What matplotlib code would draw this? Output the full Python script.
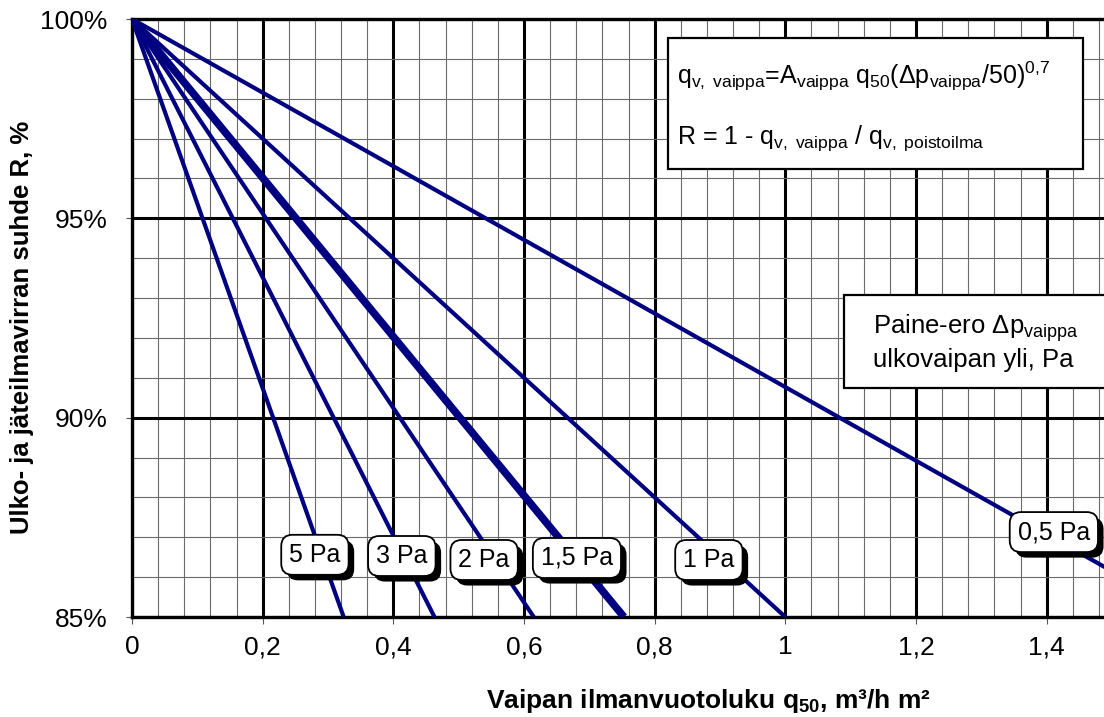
import matplotlib
matplotlib.use("Agg")
import matplotlib.pyplot as plt
import matplotlib.patheffects as pe
from matplotlib.patches import Rectangle
from matplotlib.ticker import MultipleLocator

plt.rcParams['font.family'] = ['Liberation Sans', 'DejaVu Sans']
plt.rcParams['mathtext.fontset'] = 'custom'
plt.rcParams['mathtext.rm'] = 'Liberation Sans'
plt.rcParams['mathtext.it'] = 'Liberation Sans'
plt.rcParams['mathtext.bf'] = 'Liberation Sans:bold'

# Data: each line starts at (0, 100%) and ends at (x_end, y_end)
pressures = ["5 Pa", "3 Pa", "2 Pa", "1,5 Pa", "1 Pa", "0,5 Pa"]
x_start = [0, 0, 0, 0, 0, 0]
y_start = [100, 100, 100, 100, 100, 100]
x_end = [0.324, 0.463, 0.615, 0.753, 1.0, 1.5]
y_end = [85, 85, 85, 85, 85, 86.15]
line_widths = [3.0, 3.0, 3.0, 5.5, 3.0, 3.0]
label_x = [0.280, 0.413, 0.539, 0.681, 0.883, 1.411]
label_y = [86.56, 86.53, 86.43, 86.48, 86.43, 87.13]

xticks = [0, 0.2, 0.4, 0.6, 0.8, 1.0, 1.2, 1.4]
xtick_labels = ["0", "0,2", "0,4", "0,6", "0,8", "1", "1,2", "1,4"]
yticks = [85, 90, 95, 100]
ytick_labels = ["85%", "90%", "95%", "100%"]

fig = plt.figure(figsize=(11.04, 7.17), dpi=100)
ax = fig.add_axes([132/1104, 1-617/717, (1112-132)/1104, (617-19)/717])
ax.set_xlim(0, 1.5)
ax.set_ylim(85, 100)

ax.xaxis.set_minor_locator(MultipleLocator(0.04))
ax.yaxis.set_minor_locator(MultipleLocator(1))
ax.grid(which='minor', color='#6a6a6a', lw=0.8, zorder=0)
ax.grid(which='major', color='black', lw=2.2, zorder=0.5)
ax.set_axisbelow(True)
for s in ax.spines.values():
    s.set_linewidth(2.4)
    s.set_zorder(0.6)

ax.set_xticks(xticks)
ax.set_xticklabels(xtick_labels, fontsize=19)
ax.set_yticks(yticks)
ax.set_yticklabels(ytick_labels, fontsize=19)
ax.tick_params(axis='y', which='major', direction='out', length=4.5, width=0.8,
               color='#555555', pad=13)
ax.tick_params(axis='x', which='major', direction='out', length=5, width=0.8,
               color='#555555', pad=8)
ax.tick_params(which='minor', length=0)

for i in range(len(pressures)):
    ax.plot([x_start[i], x_end[i]], [y_start[i], y_end[i]], color='#000080',
            lw=line_widths[i], solid_capstyle='butt', zorder=2, clip_on=True)

for i, lab in enumerate(pressures):
    t = ax.text(label_x[i], label_y[i], lab, fontsize=18, ha='center', va='center',
                zorder=5,
                bbox=dict(boxstyle='round,pad=0.32,rounding_size=0.45', fc='white',
                          ec='black', lw=1.3))
    t.get_bbox_patch().set_path_effects([
        pe.SimplePatchShadow(offset=(4, -4), shadow_rgbFace='black', alpha=1.0),
        pe.Normal()])

# Formula box
ax.add_patch(Rectangle((0.820, 96.23), 0.635, 3.29, fc='white', ec='black', lw=1.6, zorder=4))
ax.text(0.834, 98.57,
        r"q$_{\mathregular{v,\ vaippa}}$=A$_{\mathregular{vaippa}}$ q$_{\mathregular{50}}$(Δp$_{\mathregular{vaippa}}$/50)$^{\mathregular{0{,}7}}$",
        fontsize=18, ha='left', va='center', zorder=5)
ax.text(0.834, 97.0,
        r"R = 1 - q$_{\mathregular{v,\ vaippa}}$ / q$_{\mathregular{v,\ poistoilma}}$",
        fontsize=18, ha='left', va='center', zorder=5)

# Pressure difference box
ax.add_patch(Rectangle((1.090, 90.75), 0.5, 2.33, fc='white', ec='black', lw=1.6, zorder=4))
ax.text(1.134, 92.25, r"Paine-ero Δp$_{\mathregular{vaippa}}$", fontsize=18.5,
        ha='left', va='center', zorder=5)
ax.text(1.134, 91.45, "ulkovaipan yli, Pa", fontsize=18.5, ha='left', va='center', zorder=5)

ax.set_xlabel(r"Vaipan ilmanvuotoluku q$_{\mathbf{50}}$, m³/h m²", fontsize=19,
              fontweight='bold')
ax.xaxis.set_label_coords(0.588, -0.117)
ax.set_ylabel("Ulko- ja jäteilmavirran suhde R, %", fontsize=18.5, fontweight='bold')
ax.yaxis.set_label_coords(-0.100, 0.485)

fig.savefig("out.png", dpi=100)
